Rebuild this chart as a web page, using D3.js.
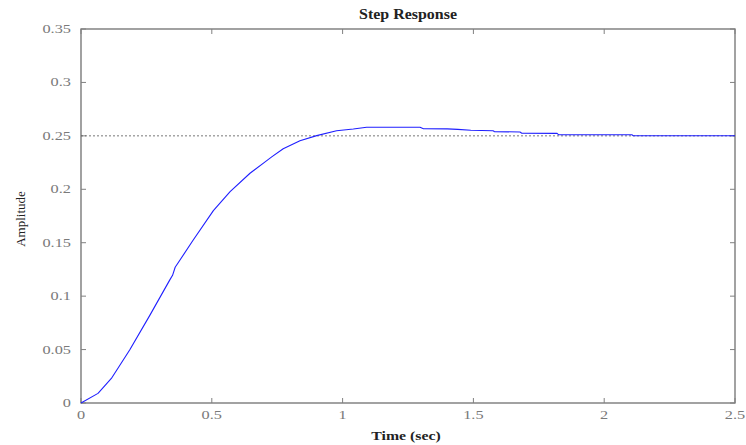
<!DOCTYPE html>
<html>
<head>
<meta charset="utf-8">
<script src="https://cdn.jsdelivr.net/npm/d3@7"></script>
<style>
  html, body { margin: 0; padding: 0; background: #fff; }
  svg { display: block; }
</style>
</head>
<body>
<svg id="chart" width="746" height="445"></svg>
<script>
// ---- data ----
const time = [0, 0.065, 0.116, 0.186, 0.263, 0.339, 0.35, 0.36, 0.429, 0.506, 0.570, 0.646, 0.700, 0.729, 0.773, 0.837, 0.901, 0.977, 1.041, 1.092, 1.296, 1.309, 1.40, 1.44, 1.49, 1.575, 1.58, 1.678, 1.685, 1.82, 1.825, 2.106, 2.11, 2.5];
const amplitude = [0, 0.009, 0.023, 0.0496, 0.082, 0.115, 0.1195, 0.127, 0.1525, 0.1800, 0.1978, 0.2150, 0.2250, 0.2303, 0.2380, 0.2455, 0.2502, 0.2548, 0.2564, 0.258, 0.258, 0.2567, 0.2565, 0.2561, 0.2552, 0.2548, 0.2540, 0.2536, 0.2525, 0.2523, 0.2512, 0.2510, 0.2502, 0.2501];
const finalValue = 0.25;
const xTicks = [0, 0.5, 1, 1.5, 2, 2.5];
const xTickLabels = ["0", "0.5", "1", "1.5", "2", "2.5"];
const yTicks = [0, 0.05, 0.1, 0.15, 0.2, 0.25, 0.3, 0.35];
const yTickLabels = ["0", "0.05", "0.1", "0.15", "0.2", "0.25", "0.3", "0.35"];
const title = "Step Response";
const xLabel = "Time (sec)";
const yLabel = "Amplitude";

// ---- layout ----
const L = 81, R = 735, T = 29, B = 403;
const svg = d3.select("#chart");
const x = d3.scaleLinear().domain([0, 2.5]).range([L, R]);
const y = d3.scaleLinear().domain([0, 0.35]).range([B, T]);
const font = "'Liberation Serif', 'Times New Roman', serif";
const sx = 1.36;
const axisColor = "#707070";
const tickLen = 5;

// frame
svg.append("rect")
  .attr("x", L).attr("y", T).attr("width", R - L).attr("height", B - T)
  .attr("fill", "none").attr("stroke", axisColor).attr("stroke-width", 1.3);

// ticks (inward on all four sides)
const tg = svg.append("g").attr("stroke", "#808080").attr("stroke-width", 1);
xTicks.forEach(v => {
  tg.append("line").attr("x1", x(v)).attr("x2", x(v)).attr("y1", B).attr("y2", B - tickLen);
  tg.append("line").attr("x1", x(v)).attr("x2", x(v)).attr("y1", T).attr("y2", T + tickLen);
});
yTicks.forEach(v => {
  tg.append("line").attr("x1", L).attr("x2", L + tickLen).attr("y1", y(v)).attr("y2", y(v));
  tg.append("line").attr("x1", R).attr("x2", R - tickLen).attr("y1", y(v)).attr("y2", y(v));
});

// tick labels
const lg = svg.append("g").attr("font-family", font).attr("font-size", 12).attr("fill", "#7a7a7a");
xTicks.forEach((v, i) => {
  lg.append("text")
    .attr("transform", `translate(${x(v)},419) scale(${sx},1)`)
    .attr("text-anchor", "middle")
    .text(xTickLabels[i]);
});
yTicks.forEach((v, i) => {
  lg.append("text")
    .attr("transform", `translate(71,${y(v)}) scale(${sx},1)`)
    .attr("text-anchor", "end")
    .attr("dy", "0.33em")
    .text(yTickLabels[i]);
});

// final value dashed line
svg.append("line")
  .attr("x1", x(0)).attr("x2", x(2.5))
  .attr("y1", y(finalValue)).attr("y2", y(finalValue))
  .attr("stroke", "#555").attr("stroke-width", 0.8)
  .attr("stroke-dasharray", "2,2");

// response curve
const pts = time.map((t, i) => [t, amplitude[i]]);
svg.append("path")
  .datum(pts)
  .attr("fill", "none")
  .attr("stroke", "#1f1fff")
  .attr("stroke-width", 1.1)
  .attr("stroke-linejoin", "round")
  .attr("d", d3.line().x(d => x(d[0])).y(d => y(d[1])));

// title & labels
svg.append("text")
  .attr("transform", `translate(${(L + R) / 2},19) scale(1.14,1)`)
  .attr("text-anchor", "middle")
  .attr("font-family", font).attr("font-size", 14).attr("font-weight", "bold")
  .attr("fill", "#222")
  .text(title);
svg.append("text")
  .attr("transform", `translate(${(L + R) / 2 - 2},440) scale(1.36,1)`)
  .attr("text-anchor", "middle")
  .attr("font-family", font).attr("font-size", 11.6).attr("font-weight", "bold")
  .attr("fill", "#222")
  .text(xLabel);
svg.append("text")
  .attr("transform", `translate(25,219) rotate(-90)`)
  .attr("text-anchor", "middle")
  .attr("font-family", font).attr("font-size", 13)
  .attr("fill", "#222")
  .text(yLabel);
</script>
</body>
</html>
